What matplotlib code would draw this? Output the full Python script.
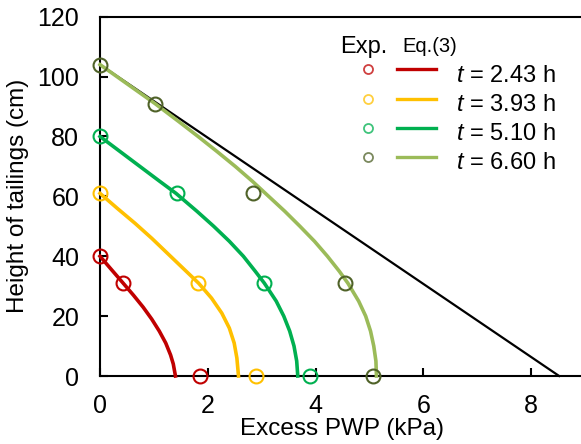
import matplotlib
matplotlib.use("Agg")
import matplotlib.pyplot as plt

plt.rcParams["font.family"] = ["Liberation Sans", "DejaVu Sans"]
plt.rcParams["mathtext.fontset"] = "custom"
plt.rcParams["mathtext.rm"] = "Liberation Sans"
plt.rcParams["mathtext.it"] = "Liberation Sans:italic"

W, H = 581, 444

# data
times = ["2.43", "3.93", "5.10", "6.60"]
line_colors = ["#C00000", "#FFC000", "#00B050", "#9BBB59"]
dot_colors = ["#C00000", "#FFC000", "#00B050", "#4F6228"]

exp_pwp = [
    [0.0, 0.42, 1.86],
    [0.0, 1.82, 2.89],
    [0.0, 1.42, 3.04, 3.90],
    [0.0, 1.02, 2.84, 4.55, 5.07],
]
exp_height = [
    [40, 31, 0],
    [61, 31, 0],
    [80, 61, 31, 0],
    [104, 91, 61, 31, 0],
]

eq_height = [
    [40, 36, 31, 27, 23, 19, 15, 11, 7, 4, 0],
    [61, 56, 51, 46, 41, 36, 31, 26, 21, 16, 11, 6, 0],
    [80, 75, 70, 65, 61, 55, 50, 45, 40, 35, 31, 25, 20, 15, 10, 5, 0],
    [104, 98, 91, 85, 80, 75, 70, 65, 61, 55, 50, 45, 40, 35, 31, 25, 20, 15, 10, 5, 0],
]
eq_pwp = [
    [0.0, 0.19, 0.43, 0.62, 0.80, 0.96, 1.10, 1.22, 1.31, 1.36, 1.40],
    [0.0, 0.32, 0.65, 0.96, 1.25, 1.54, 1.83, 2.07, 2.26, 2.40, 2.49, 2.54, 2.57],
    [0.0, 0.37, 0.74, 1.11, 1.41, 1.80, 2.11, 2.40, 2.66, 2.88, 3.05, 3.27, 3.41,
     3.52, 3.60, 3.65, 3.67],
    [0.0, 0.47, 1.02, 1.46, 1.82, 2.17, 2.51, 2.83, 3.07, 3.43, 3.71, 3.98, 4.22,
     4.44, 4.60, 4.80, 4.93, 5.02, 5.08, 5.12, 5.13],
]

hydro_pwp = [0.0, 8.52]
hydro_height = [104, 0]

fig = plt.figure(figsize=(W / 100, H / 100), dpi=100)
ax = fig.add_axes([100 / W, 68 / H, 485 / W, 359.3 / H])

ax.plot(hydro_pwp, hydro_height, color="black", lw=1.6, clip_on=False, zorder=2)
for xs, ys, c in zip(eq_pwp, eq_height, line_colors):
    ax.plot(xs, ys, color=c, lw=2.6, clip_on=False, zorder=3,
            solid_joinstyle="round")
for xs, ys, c in zip(exp_pwp, exp_height, dot_colors):
    ax.plot(xs, ys, "o", ms=10, mfc="none", mec=c, mew=1.5, clip_on=False, zorder=4)

ax.set_xlim(0, 9)
ax.set_ylim(0, 120)
ax.set_xticks([0, 2, 4, 6, 8])
ax.set_yticks(range(0, 121, 20))
ax.tick_params(direction="in", length=6, width=1.5, labelsize=18, colors="black")
ax.tick_params(axis="x", pad=13)
ax.tick_params(axis="y", pad=15)
for s in ax.spines.values():
    s.set_linewidth(1.5)
ax.set_xlabel("Excess PWP (kPa)", fontsize=17.5, labelpad=0)
ax.set_ylabel("Height of tailings (cm)", fontsize=17.5, labelpad=6)

# legend drawn in pixel coordinates on an overlay
ov = fig.add_axes([0, 0, 1, 1])
ov.set_xlim(0, W)
ov.set_ylim(H, 0)
ov.axis("off")
ov.text(340, 47, "Exp.", fontsize=17, va="center", ha="left")
ov.text(402, 47, "Eq.(3)", fontsize=14.5, va="center", ha="left")
for i, (t, lc, dc) in enumerate(zip(times, line_colors, dot_colors)):
    y = 69.5 + i * 29.2
    ov.plot([368], [y], "o", ms=6.5, mfc="none", mec=dc, mew=1.3, alpha=0.75)
    ov.plot([397, 436], [y, y], color=lc, lw=2.4)
    ov.text(456, y + 6, rf"$t$ = {t} h", fontsize=17, va="center", ha="left")

fig.savefig("out.png", dpi=100)
